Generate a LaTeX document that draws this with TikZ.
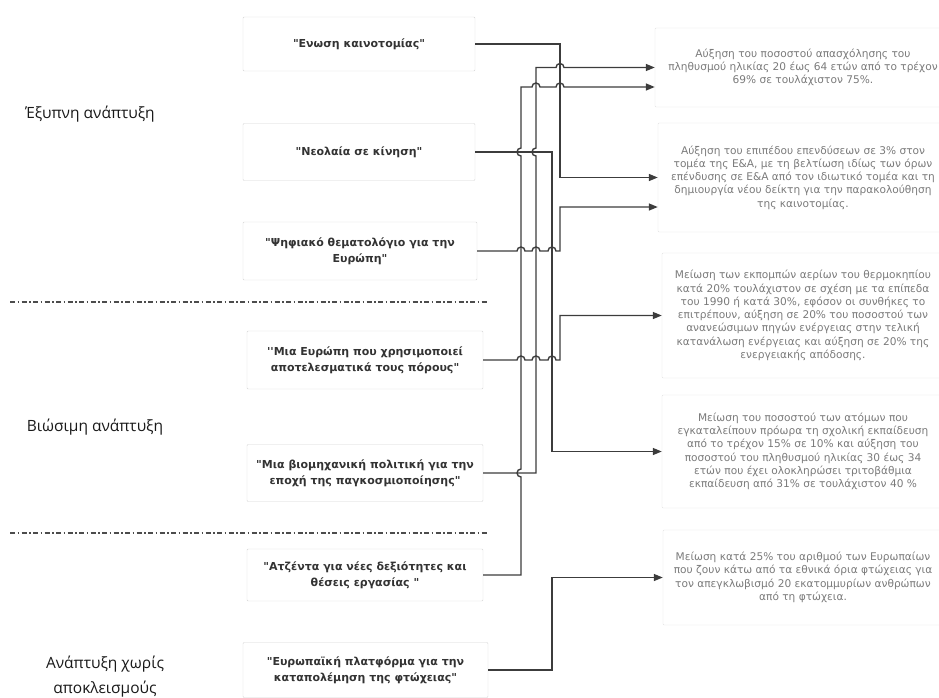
\documentclass[tikz,border=0pt]{standalone}
\usepackage{fontspec}
\setmainfont{DejaVu Sans}
\newfontfamily\boxfont{DejaVu Sans}
\newfontfamily\pillarfont{Open Sans}
\usetikzlibrary{arrows.meta}
\definecolor{wire}{HTML}{3C3C3C}
\definecolor{frameA}{HTML}{D4D4D4}
\definecolor{frameB}{HTML}{E2E2E2}
\definecolor{goaltext}{HTML}{7A7A7A}

\tikzset{
  initbox/.style={draw=frameA, rounded corners=1pt, align=center, inner sep=0pt,
    text=black!80, font=\boxfont\bfseries\fontsize{11}{16}\selectfont},
  targetbox/.style={draw=frameB, rounded corners=1pt, align=center, inner sep=0pt,
    text=goaltext, font=\boxfont\fontsize{10.6}{13.3}\selectfont},
  pillar/.style={align=center, text=black!90, font=\pillarfont\fontsize{15.5}{25}\selectfont},
  conn/.style={draw=wire, line width=1.4pt, -{Triangle[length=9pt,width=7pt]}},
  sepline/.style={draw=black!70, line width=1.2pt, dash pattern=on 5pt off 2.5pt on 1.5pt off 2.5pt}
}

\begin{document}
\begin{tikzpicture}[x=1pt, y=-1pt]

  \useasboundingbox (0,0) rectangle (939,698);

  % pillars
  \node[pillar] (smart) at (90,114) {Έξυπνη ανάπτυξη};
  \node[pillar] (green) at (95,427) {Βιώσιμη ανάπτυξη};
  \node[pillar] (incl)  at (105,677) {Ανάπτυξη χωρίς\\αποκλεισμούς};

  \coordinate (s1a) at (10,302);  \coordinate (s1b) at (488,302);
  \coordinate (s2a) at (10,533);  \coordinate (s2b) at (488,533);
  \draw[sepline] (s1a) -- (s1b);
  \draw[sepline] (s2a) -- (s2b);

  % flagship initiatives
  \node[initbox, minimum width=232pt, minimum height=54pt] (b1) at (359,44) {"Ενωση καινοτομίας"};
  \node[initbox, minimum width=232pt, minimum height=57pt] (b2) at (359,152) {"Νεολαία σε κίνηση"};
  \node[initbox, minimum width=234pt, minimum height=58pt] (b3) at (360,251) {"Ψηφιακό θεματολόγιο για την\\Ευρώπη"};
  \node[initbox, minimum width=236pt, minimum height=58pt] (b4) at (365,360) {''Μια Ευρώπη που χρησιμοποιεί\\αποτελεσματικά τους πόρους"};
  \node[initbox, minimum width=236pt, minimum height=57pt] (b5) at (365,473) {"Μια βιομηχανική πολιτική για την\\εποχή της παγκοσμιοποίησης"};
  \node[initbox, minimum width=236pt, minimum height=52pt] (b6) at (365,575) {"Ατζέντα για νέες δεξιότητες και\\θέσεις εργασίας "};
  \node[initbox, minimum width=245pt, minimum height=55pt] (b7) at (365.5,670) {"Ευρωπαϊκή πλατφόρμα για την\\καταπολέμηση της φτώχειας"};

  % headline targets
  \node[targetbox, minimum width=296pt, minimum height=79pt] (r1) at (803,67.5)
    {Αύξηση του ποσοστού απασχόλησης του\\πληθυσμού ηλικίας 20 έως 64 ετών από το τρέχον\\69\% σε τουλάχιστον 75\%.};
  \node[targetbox, minimum width=290pt, minimum height=109pt] (r2) at (803,177.5)
    {Αύξηση του επιπέδου επενδύσεων σε 3\% στον\\τομέα της Ε\&Α, με τη βελτίωση ιδίως των όρων\\επένδυσης σε Ε\&Α από τον ιδιωτικό τομέα και τη\\δημιουργία νέου δείκτη για την παρακολούθηση\\της καινοτομίας.};
  \node[targetbox, minimum width=282pt, minimum height=125pt] (r3) at (803,315.5)
    {Μείωση των εκπομπών αερίων του θερμοκηπίου\\κατά 20\% τουλάχιστον σε σχέση με τα επίπεδα\\του 1990 ή κατά 30\%, εφόσον οι συνθήκες το\\επιτρέπουν, αύξηση σε 20\% του ποσοστού των\\ανανεώσιμων πηγών ενέργειας στην τελική\\κατανάλωση ενέργειας και αύξηση σε 20\% της\\ενεργειακής απόδοσης.};
  \node[targetbox, minimum width=282pt, minimum height=113pt] (r4) at (803,451.5)
    {Μείωση του ποσοστού των ατόμων που\\εγκαταλείπουν πρόωρα τη σχολική εκπαίδευση\\από το τρέχον 15\% σε 10\% και αύξηση του\\ποσοστού του πληθυσμού ηλικίας 30 έως 34\\ετών που έχει ολοκληρώσει τριτοβάθμια\\εκπαίδευση από 31\% σε τουλάχιστον 40 \%};
  \node[targetbox, minimum width=280pt, minimum height=95pt] (r5) at (803,577.5)
    {Μείωση κατά 25\% του αριθμού των Ευρωπαίων\\που ζουν κάτω από τα εθνικά όρια φτώχειας για\\τον απεγκλωβισμό 20 εκατομμυρίων ανθρώπων\\από τη φτώχεια.};

  \coordinate (r1b) at ([yshift=-19.5pt]r1.west);
  \coordinate (r2b) at ([yshift=-29.5pt]r2.west);

  % wiring lanes
  \coordinate (lA) at (521,0);
  \coordinate (lB) at (536,0);
  \coordinate (lC) at (552,0);
  \coordinate (lD) at (560,0);

  \draw[conn] (b1.east) -| (lD |- r2.west) -- (r2.west);
  \draw[conn] (b2.east) -| (lC |- r4.west) -- (r4.west);
  \draw[conn] (b3.east) -- (517,251) arc[start angle=180,end angle=0,radius=4pt]
    -- (532,251) arc[start angle=180,end angle=0,radius=4pt]
    -- (548,251) arc[start angle=180,end angle=0,radius=4pt]
    -- (lD |- b3.east) |- (r2b);
  \draw[conn] (b4.east) -- (517,360) arc[start angle=180,end angle=0,radius=4pt]
    -- (532,360) arc[start angle=180,end angle=0,radius=4pt]
    -- (548,360) arc[start angle=180,end angle=0,radius=4pt]
    -- (lD |- b4.east) |- (r3.west);
  \draw[conn] (b5.east) -- (lB |- b5.east)
    -- (536,156) arc[start angle=270,end angle=90,radius=4pt]
    -- (536,67.5) -- (556,67.5) arc[start angle=180,end angle=0,radius=4pt] -- (r1.west);
  \draw[conn] (b6.east) -- (lA |- b6.east)
    -- (521,477) arc[start angle=270,end angle=90,radius=4pt]
    -- (521,156) arc[start angle=270,end angle=90,radius=4pt]
    -- (521,87) -- (532,87) arc[start angle=180,end angle=0,radius=4pt]
    -- (556,87) arc[start angle=180,end angle=0,radius=4pt] -- (r1b);
  \draw[conn] (b7.east) -| (lC |- r5.west) -- (r5.west);

\end{tikzpicture}
\end{document}
